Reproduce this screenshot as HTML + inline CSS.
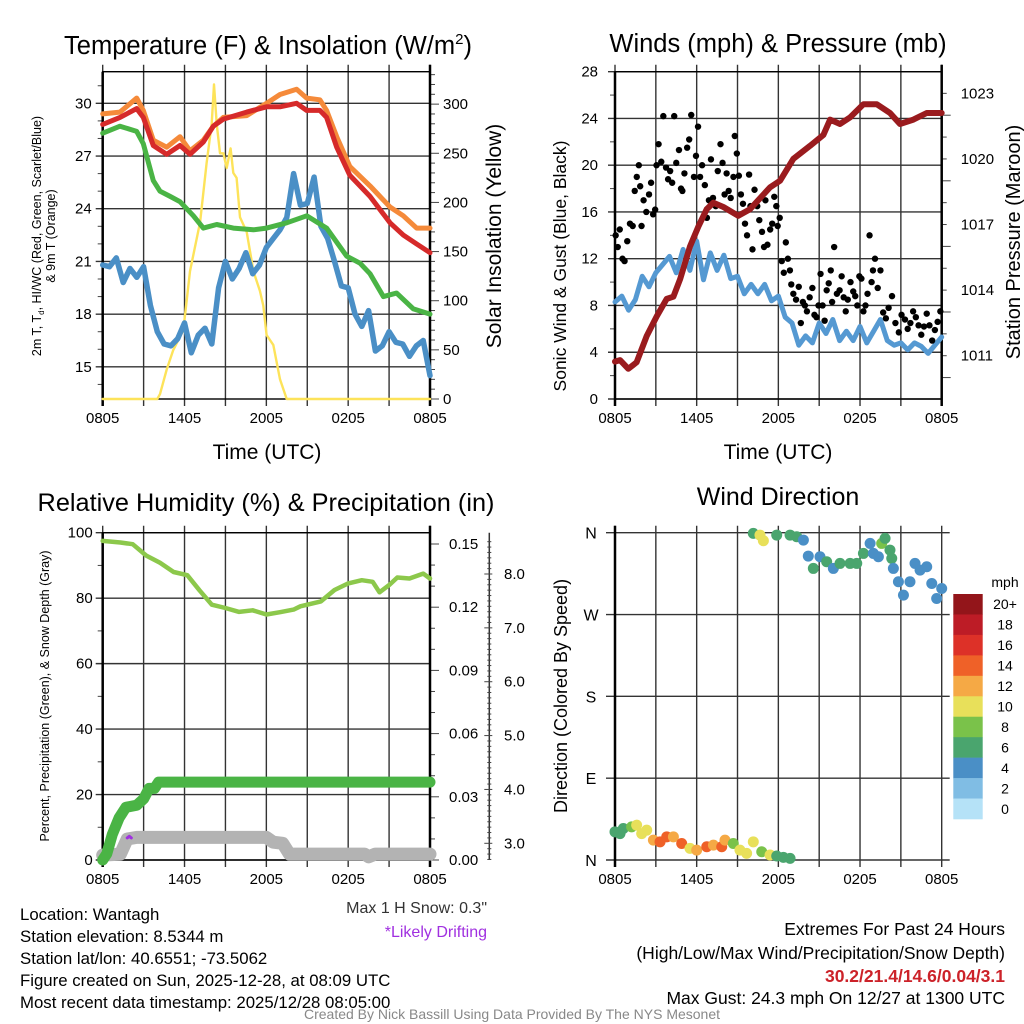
<!DOCTYPE html>
<html><head><meta charset="utf-8">
<style>
html,body{margin:0;padding:0;background:#fff;}
svg{display:block;font-family:"Liberation Sans",Arial,sans-serif;}
</style></head>
<body>
<svg id="chart" xmlns="http://www.w3.org/2000/svg" width="1024" height="1024" viewBox="0 0 1024 1024">
<rect width="1024" height="1024" fill="#fff"/>
<g id="g1"></g>
<g id="g2"></g>
<g id="g3"></g>
<g id="g4"></g>

<text x="268" y="54" font-size="25.5" text-anchor="middle">Temperature (F) &amp; Insolation (W/m<tspan font-size="15" dy="-10">2</tspan><tspan dy="10">)</tspan></text>
<text x="778" y="52" font-size="25.5" text-anchor="middle">Winds (mph) &amp; Pressure (mb)</text>
<text x="266" y="511" font-size="25.3" text-anchor="middle">Relative Humidity (%) &amp; Precipitation (in)</text>
<text x="778" y="505" font-size="25" text-anchor="middle">Wind Direction</text>

<text x="267" y="459" font-size="21" text-anchor="middle">Time (UTC)</text>
<text x="778" y="459" font-size="21" text-anchor="middle">Time (UTC)</text>

<text transform="translate(41,236) rotate(-90)" font-size="12.5" text-anchor="middle">2m T, T<tspan font-size="8" dy="3">d</tspan><tspan dy="-3">, HI/WC (Red, Green, Scarlet/Blue)</tspan></text>
<text transform="translate(55,236) rotate(-90)" font-size="12.5" text-anchor="middle">&amp; 9m T (Orange)</text>
<text transform="translate(501,236) rotate(-90)" font-size="21" text-anchor="middle">Solar Insolation (Yellow)</text>
<text transform="translate(566,266) rotate(-90)" font-size="17.5" text-anchor="middle">Sonic Wind &amp; Gust (Blue, Black)</text>
<text transform="translate(1020,242) rotate(-90)" font-size="20" text-anchor="middle">Station Pressure (Maroon)</text>
<text transform="translate(49,696) rotate(-90)" font-size="12.5" text-anchor="middle">Percent, Precipitation (Green), &amp; Snow Depth (Gray)</text>
<text transform="translate(567,696) rotate(-90)" font-size="18" text-anchor="middle">Direction (Colored By Speed)</text>

<text x="487" y="913" font-size="16" fill="#333" text-anchor="end">Max 1 H Snow: 0.3"</text>
<text x="487" y="937" font-size="16" fill="#a030e0" text-anchor="end">*Likely Drifting</text>

<g font-size="16.8">
<text x="20" y="920">Location: Wantagh</text>
<text x="20" y="942">Station elevation: 8.5344 m</text>
<text x="20" y="964">Station lat/lon: 40.6551; -73.5062</text>
<text x="20" y="986">Figure created on Sun, 2025-12-28, at 08:09 UTC</text>
<text x="20" y="1008">Most recent data timestamp: 2025/12/28 08:05:00</text>
</g>
<g font-size="17.5" text-anchor="end">
<text x="1005" y="935">Extremes For Past 24 Hours</text>
<text x="1005" y="959">(High/Low/Max Wind/Precipitation/Snow Depth)</text>
<text x="1005" y="982" fill="#cc2229" font-weight="bold">30.2/21.4/14.6/0.04/3.1</text>
<text x="1005" y="1004">Max Gust: 24.3 mph On 12/27 at 1300 UTC</text>
</g>
<text x="512" y="1019" font-size="14" fill="#888" text-anchor="middle">Created By Nick Bassill Using Data Provided By The NYS Mesonet</text>
</svg>
<script>
// ---------- data ----------
var timeLabels = ["0805","1405","2005","0205","0805"];
// Panel 1
var orangeH = [0,1.27,2.49,2.98,3.71,4.69,5.67,6.4,7.38,8.11,8.85,10.56,12.02,13,14.22,14.96,15.93,16.42,17.16,18.13,19.6,21.07,22.04,23.02,24];
var orangeT = [29.4,29.5,30.3,29.6,27.9,27.5,28.1,27.3,27.9,28.7,29.2,29.3,30.0,30.5,30.8,30.3,30.2,29.6,28.1,26.4,25.3,24.1,23.6,22.9,22.9];
var redH = orangeH;
var redT = [28.8,29.2,29.7,29.2,27.6,27.1,27.6,27.1,27.8,28.7,29.1,29.5,29.8,29.8,30.0,29.6,29.6,29.2,27.5,25.9,24.7,23.2,22.5,22.0,21.5];
var greenH = [0,1.27,2.49,2.98,3.71,4.2,4.94,5.67,6.65,7.38,8.36,9.58,11.05,12.02,13.49,14.96,16.42,17.89,18.87,19.6,20.58,21.55,22.78,24];
var greenT = [28.3,28.7,28.4,27.7,25.6,25.0,24.7,24.4,23.6,22.9,23.1,22.9,22.8,22.9,23.2,23.6,22.9,21.3,20.9,20.3,19.0,19.2,18.3,18.0];
var blueH = [0,0.5,1,1.5,2,2.5,3,3.5,4,4.5,5,5.5,6,6.5,7,7.5,8,8.5,9,9.5,10,10.5,11,11.5,12,12.5,13,13.5,14,14.5,15,15.5,16,16.5,17,17.5,18,18.5,19,19.5,20,20.5,21,21.5,22,22.5,23,23.5,24];
var blueT = [20.8,20.7,21.2,19.8,20.6,20.1,20.7,18.5,17.0,16.3,16.2,16.6,17.5,15.8,16.8,17.2,16.3,19.5,21.0,20.0,20.6,21.5,20.3,20.8,21.8,22.3,22.8,23.5,26.0,24.2,24.3,25.8,23.0,22.3,21.0,19.6,19.5,18.0,17.3,18.2,15.9,16.2,17.0,16.4,16.3,15.6,16.2,16.5,14.5];
var solarH = [0,4.0,4.2,4.69,5.18,5.91,6.4,7.14,7.62,7.99,8.16,8.36,8.6,8.85,9.09,9.38,9.58,9.82,10.07,10.56,11.05,11.53,11.78,12.02,12.51,13.0,13.49,24];
var solarW = [0,0,5,30,50,70,130,180,240,280,320,280,250,250,235,255,230,225,185,170,130,110,95,65,55,20,0,0];
// Panel 2
var pressH = [0,0.37,0.98,1.59,2.33,3.06,3.8,4.29,4.78,5.51,6.12,6.74,7.23,7.96,9.06,9.92,11.39,12.12,13.1,14.33,15.31,15.8,16.53,17.27,18.25,19.23,20.2,20.94,21.92,22.9,24];
var pressMb = [1010.73,1010.8,1010.4,1010.7,1011.9,1012.8,1013.6,1013.7,1014.5,1016.0,1016.9,1017.7,1018.0,1017.8,1017.4,1017.7,1018.7,1019.0,1020.0,1020.6,1021.1,1021.8,1021.6,1021.9,1022.5,1022.5,1022.1,1021.6,1021.8,1022.1,1022.1];
var sonicH = blueH;
var sonicW = [8.3,8.8,7.6,8.5,10.5,9.6,10.8,11.5,12.2,10.8,12.8,11.0,13.5,10.2,12.5,11.0,12.3,10.3,10.5,9.0,9.8,9.0,9.8,8.4,8.8,7.0,6.5,4.6,5.4,4.8,6.5,5.6,6.8,5.0,5.8,5.0,6.2,4.8,5.8,6.8,5.0,4.6,4.8,4.2,4.8,4.5,3.9,4.6,5.3];
var gustH = [0.05,0.2,0.35,0.55,0.7,0.9, 1.1,1.3,1.45,1.6,1.75,1.85,1.95, 2.1,2.3,2.5,2.65,2.8,2.95, 3.05,3.2,3.4,3.55,3.75,3.9, 4.05,4.2,4.35,4.5,4.7,4.85,4.95, 5.1,5.3,5.45,5.6,5.8,5.95, 6.1,6.25,6.4,6.6,6.75,6.9, 7.05,7.2,7.4,7.55,7.75,7.9, 8.05,8.2,8.35,8.5,8.7,8.8,8.95, 9.1,9.25,9.4,9.55,9.7,9.85,9.95, 10.1,10.25,10.45,10.6,10.8,10.95, 11.05,11.2,11.4,11.55,11.7,11.85,11.95, 12.1,12.25,12.4,12.55,12.7,12.85,12.95, 13.1,13.3,13.5,13.65,13.8,13.95, 14.1,14.3,14.5,14.65,14.8,14.95, 15.1,15.25,15.4,15.55,15.7,15.85,15.95, 16.1,16.3,16.5,16.65,16.8,16.95, 17.1,17.3,17.5,17.65,17.8,17.95, 18.1,18.25,18.4,18.55,18.7,18.85,18.95, 19.1,19.3,19.5,19.7,19.9, 20.1,20.35,20.6,20.85, 21.05,21.3,21.5,21.7,21.9, 22.1,22.3,22.5,22.7,22.9, 23.1,23.3,23.5,23.7,23.9];
var gustW = [14,13,14.5,12,11.8,13.5, 15,14.8,17.8,19,20,18.2,14.8, 17,16,17.5,18.5,15.8,16.2, 20,21.8,20.3,24.2,19.8,18.8, 19.5,18.5,24.2,20.2,21.3,18,17.8, 19.3,21.5,22.2,24.3,19,20.8, 23.3,19,20,18.3,15.5,17, 20.5,17.2,16.5,19.5,21.8,20.2, 17.5,19.3,17.8,17.2,19,22.5,21, 19.1,17.5,16.7,15,14,19.2,16.5, 12.8,17.9,16.5,15.3,14.3,13, 17,13.2,14.5,15,17.3,16.5,14.8, 15.5,11.8,10.8,13.4,12,11,9.8, 9,8.5,9.6,6.5,8.3,8, 7.5,8.7,9.5,7.2,7,8, 10.7,8,6.7,9.3,9.9,11,8.3, 13,9,9.3,10.5,8.7,7.5, 8.5,10,9.2,8.8,8,10.5, 10.3,7.5,8,9,14,10,11, 12,9.5,11,7.4,6.9, 7.8,8.8,6.5,5.7, 7.2,6.8,6,6.5,7.5, 7,6.3,5.5,6.2,7.3, 6.3,5,5.9,6.6,7.5];
// Panel 3
var rhH = [0,1.3,2.2,3.2,4.2,5.2,6.2,7.1,8,9,10,11,12,13,14,14.5,16,17,18,19,19.8,20.3,21,21.6,22.5,23.5,24];
var rhPct = [97.5,97,96.5,93,90.8,88,87,82.4,78,77,75.8,76.3,75,75.7,76.5,77.5,79,82.5,84.5,85.5,85,81.8,84,86.3,86,87.5,86];
var precipH = [0,0.3,0.7,1.2,1.7,2.5,3.0,3.4,3.8,4.1,24];
var precipIn = [0,0.003,0.012,0.02,0.025,0.026,0.029,0.034,0.034,0.037,0.037];
var snowH = [0,1.3,1.8,2.5,12.0,12.5,13.2,13.7,19.2,19.5,20.0,24];
var snowIn = [2.78,2.8,3.08,3.11,3.11,3.02,3.0,2.8,2.8,2.75,2.8,2.8];
var driftH = [1.8,1.95,2.1];
var driftIn = [3.1,3.13,3.1];
// Panel 4
var dirH = [0,0.37,0.61,1.22,1.59,1.96,2.33,2.82,3.31,3.8,4.29,4.9,5.51,6.0,6.74,7.23,7.84,8.08,8.69,9.18,9.67,10.16,10.78,11.39,11.88,12.37,12.86,
 10.16,10.65,10.9,11.88,12.86,13.35,13.84,14.2,14.57,15.06,15.55,16.04,16.53,17.27,17.76,18.25,18.74,18.98,19.35,19.59,19.84,20.2,20.33,20.45,20.82,21.19,21.67,22.04,22.41,22.9,23.27,23.63,24];
var dirDeg = [31,29,34.6,36.4,38.3,29,32.8,21.9,20,25.5,25.5,18.2,12.8,10.9,14.6,16.4,14.6,21.9,18.2,10.9,7.3,20,9.1,5.5,4.4,2.9,1.8,
 359.3,357.4,351.2,357.4,357.4,355.6,351.9,334.3,320.7,333.5,328,320.7,326.2,326.2,326.2,337.2,348.2,337.2,333.5,348.2,353.8,340.9,331.7,320.7,306,291.3,306,326.2,318.8,322.5,304.1,287.6,298.6];
var dirSpd = [7,7,7,8,10,11,10,12,15,14,12,15,10,12,14,12,15,12,8,10,11,10,8,11,7,7,6,
 7,10,11,7,6,6,5,4,6,4,6,4,6,6,6,6,4,4,4,8,6,6,6,4,4,4,4,4,4,4,4,4,4];
var cbLabels = ["20+","18","16","14","12","10","8","6","4","2","0"];
var cbColors = ["#93151a","#bd1c26","#dd3128","#ef6128","#f5a945","#e8e05a","#7ac24a","#4aa56e","#4a8fc6","#80bde4","#b5e2f7"];

// ---------- helpers ----------
var NS="http://www.w3.org/2000/svg";
function mk(parent, tag, attrs){var e=document.createElementNS(NS,tag);for(var k in attrs)e.setAttribute(k,attrs[k]);parent.appendChild(e);return e;}
function lin(d0,d1,r0,r1){return function(v){return r0+(v-d0)/(d1-d0)*(r1-r0);};}
function pathD(xs,ys,fx,fy){var s="";for(var i=0;i<xs.length;i++){s+=(i?"L":"M")+fx(xs[i]).toFixed(1)+","+fy(ys[i]).toFixed(1);}return s;}
function spdColor(s){var i=Math.min(10,Math.floor(s/2));return cbColors[10-i];}

function frame(g,L,R,T,B,nameP){
  var fx=lin(0,24,L,R);
  for(var h=0;h<=24;h+=3){
    var l=mk(g,"line",{x1:fx(h),x2:fx(h),y1:T-7,y2:B+7,stroke:"#333","stroke-width":1.4});
    
    
  }
  for(var i=0;i<timeLabels.length;i++){
    var t=mk(g,"text",{x:fx(i*6),y:B+24,"font-size":15,"text-anchor":"middle"});
    t.textContent=timeLabels[i];
    
    
  }
  return fx;
}
function hgrid(g,L,R,y,nameP){
  var l=mk(g,"line",{x1:L-7,x2:R,y1:y,y2:y,stroke:"#333","stroke-width":1.4});
  
  
}
function border(g,L,R,T,B,nameP){
  var r=mk(g,"rect",{x:L,y:T,width:R-L,height:B-T,fill:"none",stroke:"#000","stroke-width":1.4});
  
  
  var a=mk(g,"line",{x1:L,x2:L,y1:T,y2:B+7,stroke:"#000","stroke-width":2.5});
  
  
  var b=mk(g,"line",{x1:R,x2:R,y1:T-7,y2:B+7,stroke:"#000","stroke-width":2.5});
  
  
}
function label(g,x,y,txt,anchor,name,size){
  var t=mk(g,"text",{x:x,y:y,"font-size":size||15,"text-anchor":anchor});
  t.textContent=txt;
  
  
}
function tick(g,x1,x2,y,name){
  var l=mk(g,"line",{x1:x1,x2:x2,y1:y,y2:y,stroke:"#444","stroke-width":1});
  
  
}
function series(g,xs,ys,fx,fy,color,w,name){
  var p=mk(g,"path",{d:pathD(xs,ys,fx,fy),fill:"none",stroke:color,"stroke-width":w,"stroke-linejoin":"round","stroke-linecap":"round"});
  
  
}

// ---------- Panel 1 ----------
(function(){
  var g=document.getElementById("g1"),L=102.7,R=430,T=71.7,B=399;
  var fx=frame(g,L,R,T,B,"temp");
  var fy=lin(13.17,31.8,B,T), fs=lin(0,333,B,T);
  for(var v=15;v<=30;v+=3){hgrid(g,L,R,fy(v),"temp");label(g,L-11,fy(v)+5,String(v),"end","temp-y-tick-label");}
  for(var v=14;v<=31;v++){if(v%3)tick(g,L-5,L,fy(v),"temp-minor-tick");}
  for(var s=0;s<=330;s+=10){tick(g,R,R+(s%50?5:9),fs(s),"insolation-tick");}
  for(var s=0;s<=300;s+=50){label(g,R+13,fs(s)+5,String(s),"start","insolation-tick-label");}
  border(g,L,R,T,B,"temp");
  series(g,solarH,solarW,fx,fs,"#fde35a",2.4,"solar-insolation-line");
  series(g,blueH,blueT,fx,fy,"#4a8fc6",5.5,"wind-chill-line");
  series(g,greenH,greenT,fx,fy,"#4ab445",5,"dewpoint-line");
  series(g,orangeH,orangeT,fx,fy,"#f58a3a",5,"temp-9m-line");
  series(g,redH,redT,fx,fy,"#d62a2a",5,"temp-2m-line");
})();

// ---------- Panel 2 ----------
(function(){
  var g=document.getElementById("g2"),L=615,R=941.7,T=71.7,B=399;
  var fx=frame(g,L,R,T,B,"winds");
  var fy=lin(0,28,B,T), fp=lin(1009.02,1023.99,B,T);
  for(var v=0;v<=28;v+=4){hgrid(g,L,R,fy(v),"winds");label(g,L-17,fy(v)+5,String(v),"end","wind-y-tick-label");}
  for(var v=2;v<=26;v+=4){tick(g,L-5,L,fy(v),"wind-minor-tick");}
  for(var p=1010;p<=1023;p++){tick(g,R,R+(p%3==2?9:5),fp(p),"pressure-tick");}
  for(var p=1011;p<=1023;p+=3){label(g,R+19,fp(p)+5,String(p),"start","pressure-tick-label");}
  border(g,L,R,T,B,"winds");
  series(g,sonicH,sonicW,fx,fy,"#5599d2",5,"sonic-wind-line");
  for(var i=0;i<gustH.length;i++){
    var c=mk(g,"circle",{cx:fx(gustH[i]),cy:fy(gustW[i]),r:3.2,fill:"#000"});
    
    
  }
  series(g,pressH,pressMb,fx,fp,"#9a1b1e",6,"pressure-line");
})();

// ---------- Panel 3 ----------
(function(){
  var g=document.getElementById("g3"),L=102.7,R=430,T=532.7,B=860;
  var fx=frame(g,L,R,T,B,"humidity");
  var fy=lin(0,100,B,T), fpr=lin(0,0.15,B,544), fsn=lin(3,8,843.3,574);
  for(var v=0;v<=100;v+=20){hgrid(g,L,R,fy(v),"humidity");label(g,L-10,fy(v)+5,String(v),"end","humidity-y-tick-label");}
  for(var v=10;v<=90;v+=20){tick(g,L-5,L,fy(v),"humidity-minor-tick");}
  for(var k=0;k<=15;k++){tick(g,R,R+(k%3?5:9),fpr(k/100),"precip-tick");}
  for(var k=0;k<=15;k+=3){label(g,R+19,fpr(k/100)+5,(k/100).toFixed(2),"start","precip-tick-label");}
  var ax=mk(g,"line",{x1:489.3,x2:489.3,y1:T,y2:B,stroke:"#333","stroke-width":1.5});
  
  
  for(var s=2.7;s<=8.6;s+=0.1){var r=Math.round(s*10);tick(g,489.3-(r%10==0?5:2),489.3+(r%10==0?3:2),fsn(r/10),"snow-tick");}
  for(var s=3;s<=8;s++){label(g,504,fsn(s)+5,s.toFixed(1),"start","snow-tick-label");}
  border(g,L,R,T,B,"humidity");
  series(g,snowH,snowIn,fx,fsn,"#b3b3b3",13,"snow-depth-line");
  series(g,driftH,driftIn,fx,fsn,"#a030e0",3,"drifting-marker");
  series(g,precipH,precipIn,fx,fpr,"#4ab445",11,"precipitation-line");
  series(g,rhH,rhPct,fx,fy,"#8cc84b",4.5,"relative-humidity-line");
})();

// ---------- Panel 4 ----------
(function(){
  var g=document.getElementById("g4"),L=615,R=941.7,T=532.7,B=860;
  var fx=frame(g,L,R,T,B,"direction");
  var fy=lin(0,360,B,T);
  var dl=["N","E","S","W","N"];
  for(var i=0;i<5;i++){var y=fy(i*90);var l=mk(g,"line",{x1:L-9,x2:R+8,y1:y,y2:y,stroke:"#333","stroke-width":1.4});
    
    
    label(g,L-24,y+6,dl[i],"middle","direction-tick-label",16);}
  var a=mk(g,"line",{x1:L,x2:L,y1:T-7,y2:B+7,stroke:"#000","stroke-width":2.5});
  
  
  for(var i=0;i<dirH.length;i++){
    var c=mk(g,"circle",{cx:fx(dirH[i]),cy:fy(dirDeg[i]),r:5.5,fill:spdColor(dirSpd[i])});
    
    
  }
  var cb=mk(g,"g",{});
  
  
  var bh=(819-594)/11;
  for(var k=0;k<11;k++){
    var r=mk(cb,"rect",{x:953.3,y:594+k*bh,width:29.4,height:bh+0.3,fill:cbColors[k]});
    
    
    label(cb,1005,594+k*bh+bh/2+5,cbLabels[k],"middle","colorbar-label",14);
  }
  label(cb,1005,587,"mph","middle","colorbar-units",14);
})();
</script>
</body></html>
